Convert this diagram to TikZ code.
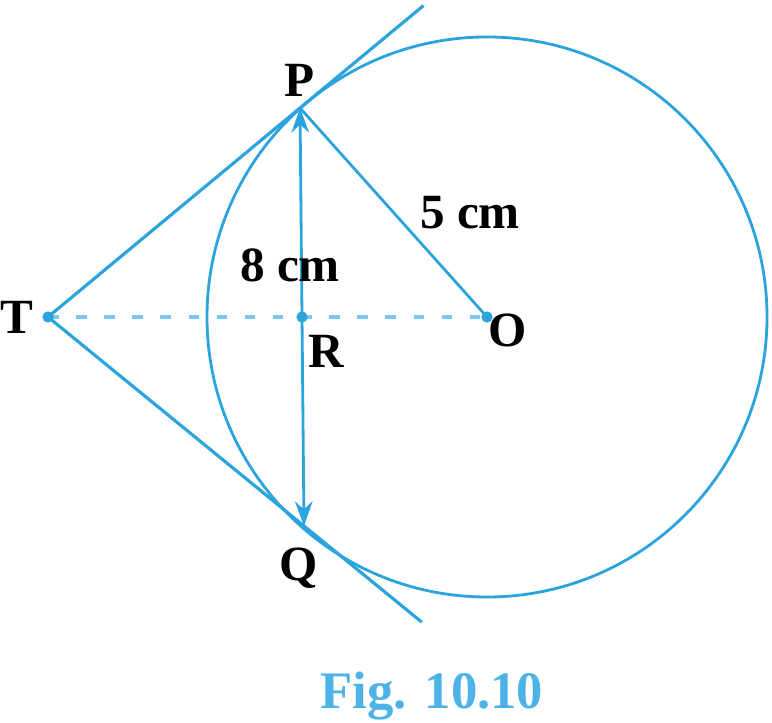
\documentclass[tikz,border=0pt]{standalone}
\usepackage{fontspec}
\setmainfont{Liberation Serif}
\usetikzlibrary{positioning, arrows.meta, calc}
\definecolor{figBlue}{HTML}{2BA3DD}
\definecolor{dashBlue}{HTML}{7CC8EC}
\definecolor{capBlue}{HTML}{4DB3E6}

\begin{document}
\begin{tikzpicture}[font=\fontsize{14}{16}\selectfont\bfseries, every node/.style={align=center, inner sep=0pt}]
    \useasboundingbox (0,0) rectangle (7.72,7.23);
    \coordinate (O) at (4.87,4.06);
    \coordinate (R) at (3.02,4.06);
    \coordinate (T) at (0.48,4.06);
    \coordinate (P) at (3.00,6.15);
    \coordinate (Q) at (3.04,1.97);
    \draw[figBlue, line width=0.8pt] (O) circle (2.80);
    \draw[dashBlue, line width=0.9pt, dash pattern=on 3pt off 5pt] (T) -- (O);
    \draw[figBlue, line width=0.9pt] (T) -- ($(T)!1.49!(P)$);
    \draw[figBlue, line width=0.9pt] (T) -- ($(T)!1.46!(Q)$);
    \draw[figBlue, line width=0.8pt, {Stealth[length=7pt, width=5pt]}-{Stealth[length=7pt, width=5pt]}] (P) -- (Q);
    \draw[figBlue, line width=0.8pt] (P) -- (O);
    \foreach \pt in {T, R, O}
      \fill[figBlue] (\pt) circle (1.6pt);
    \node[above=3pt of P] (pLbl) {P};
    \node[below left=6pt and -4pt of Q] (qLbl) {Q};
    \node[left=4pt of T] (tLbl) {T};
    \node[below right=5pt and 7pt of R, anchor=north] (rLbl) {R};
    \node[below right=-1pt and 6pt of O, anchor=north] (oLbl) {O};
    \node at (2.90,4.58) (pqLen) {8 cm};
    \node at (4.70,5.10) (opLen) {5 cm};
    \node[text=capBlue, font=\fontsize{15}{17}\selectfont\bfseries] at (4.32,0.27) (caption) {Fig. 10.10};
\end{tikzpicture}
\end{document}
